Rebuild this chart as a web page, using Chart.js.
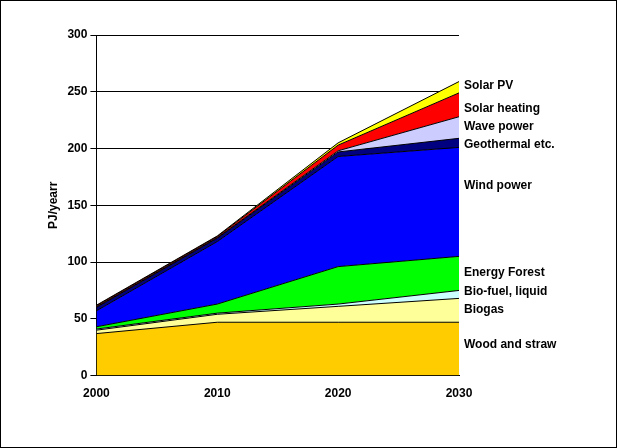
<!DOCTYPE html>
<html><head><meta charset="utf-8">
<script src="https://cdn.jsdelivr.net/npm/chart.js@4"></script>
<style>
html,body{margin:0;padding:0;background:#fff;}
#wrap{position:absolute;left:0;top:0;width:615px;height:446px;border:1px solid #000;}
</style></head><body>
<div id="wrap"><canvas id="c" width="615" height="446"></canvas></div>
<script>
const YEARS = [2000, 2010, 2020, 2030];
const WOOD = [37, 47, 47, 47];
const BIOGAS = [3, 7, 14, 21];
const BIOFUEL = [1, 1, 2, 7];
const ENERGY_FOREST = [2, 8, 33, 30];
const WIND = [14, 55, 97, 96];
const GEOTHERMAL = [3, 3, 4, 8];
const WAVE = [0.5, 0.5, 1, 19];
const SOLAR_HEAT = [1, 1, 5, 21];
const SOLAR_PV = [0.5, 0.5, 2, 10];

const SERIES = [
  { label: "Wood and straw", data: WOOD, color: "#FFCC00", labelAt: 27 },
  { label: "Biogas", data: BIOGAS, color: "#FFFF99", labelAt: 58 },
  { label: "Bio-fuel, liquid", data: BIOFUEL, color: "#CCFFFF", labelAt: 74 },
  { label: "Energy Forest", data: ENERGY_FOREST, color: "#00FF00", labelAt: 91 },
  { label: "Wind power", data: WIND, color: "#0000FF", labelAt: 167 },
  { label: "Geothermal etc.", data: GEOTHERMAL, color: "#000080", labelAt: 203 },
  { label: "Wave power", data: WAVE, color: "#CCCCFF", labelAt: 219 },
  { label: "Solar heating", data: SOLAR_HEAT, color: "#FF0000", labelAt: 235 },
  { label: "Solar PV", data: SOLAR_PV, color: "#FFFF00", labelAt: 255 },
];

const FONT = { family: "'Liberation Sans', Arial", size: 12, weight: "bold" };

const sideLabels = {
  id: "sideLabels",
  afterDraw(chart) {
    const { ctx, scales } = chart;
    ctx.save();
    ctx.font = "bold 12px 'Liberation Sans', Arial";
    ctx.fillStyle = "#000";
    ctx.textBaseline = "middle";
    SERIES.forEach((s) => {
      ctx.fillText(s.label, scales.x.getPixelForValue(2030) + 5, scales.y.getPixelForValue(s.labelAt));
    });
    ctx.restore();
  },
};

new Chart(document.getElementById("c"), {
  type: "line",
  data: {
    datasets: SERIES.map((s, i) => ({
      label: s.label,
      data: s.data.map((v, j) => ({ x: YEARS[j], y: v })),
      backgroundColor: s.color,
      borderColor: "#000",
      borderWidth: 1,
      pointRadius: 0,
      tension: 0,
      fill: i === 0 ? "origin" : "-1",
    })),
  },
  options: {
    responsive: false,
    animation: false,
    layout: { padding: { left: 41, right: 157, top: 34, bottom: 43 } },
    plugins: { legend: { display: false }, tooltip: { enabled: false } },
    scales: {
      x: {
        type: "linear", min: 2000, max: 2030,
        ticks: { stepSize: 10, color: "#000", font: FONT, callback: (v) => String(v) },
        grid: { display: false, drawOnChartArea: false },
        border: { color: "#000" },
      },
      y: {
        stacked: true, min: 0, max: 300,
        ticks: { stepSize: 50, color: "#000", font: FONT },
        grid: { color: "#000", tickLength: 6 },
        border: { color: "#000" },
        title: { display: true, text: "PJ/yearr", color: "#000", font: FONT },
      },
    },
  },
  plugins: [sideLabels],
});
</script>
</body></html>
